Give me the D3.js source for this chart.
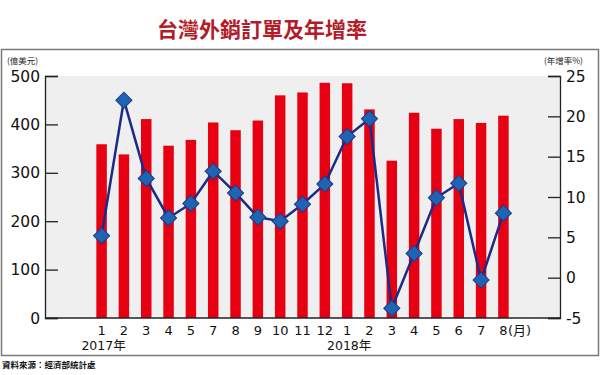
<!DOCTYPE html>
<html lang="zh-Hant">
<head>
  <meta charset="UTF-8">
  <title>台灣外銷訂單及年增率</title>
  <script src="https://d3js.org/d3.v7.min.js"></script>
  <style>
    body { margin: 0; background: #fff; }
    svg { display: block; }
    .tick-label { font-family: "DejaVu Sans", "Noto Sans CJK TC", sans-serif; fill: #111; }
  </style>
</head>
<body>
<svg width="600" height="375"></svg>
<script>
// months shown on the axis (2017-06 is not in the source chart)
const months = ["1", "2", "3", "4", "5", "7", "8", "9", "10", "11", "12", "1", "2", "3", "4", "5", "6", "7", "8"];
const years = [{ label: "2017年", at: 0 }, { label: "2018年", at: 11 }];
// export orders, 億美元
const orders = [359, 338, 411, 356, 368, 404, 388, 408, 460, 466, 486, 485, 431, 325, 424, 391, 411, 403, 418];
// year-on-year growth, %
const growth = [5.2, 22.0, 12.3, 7.4, 9.2, 13.2, 10.5, 7.5, 7.0, 9.1, 11.6, 17.5, 19.7, -3.8, 3.0, 9.9, 11.7, -0.3, 8.0];
const leftTicks = [0, 100, 200, 300, 400, 500];
const rightTicks = [-5, 0, 5, 10, 15, 20, 25];

const svg = d3.select("svg");
const plot = { left: 45, right: 560, top: 76, bottom: 318 };

// outer frame
svg.append("rect")
  .attr("x", 1.5).attr("y", 49.5)
  .attr("width", 597).attr("height", 306)
  .attr("fill", "none")
  .attr("stroke", "#7a7a7a")
  .attr("stroke-width", 1.5);

// title
svg.append("text")
  .attr("x", 262).attr("y", 37)
  .attr("text-anchor", "middle")
  .attr("font-family", "Noto Sans CJK TC")
  .attr("font-weight", 700)
  .attr("font-size", 21)
  .attr("fill", "#b31b29")
  .text("台灣外銷訂單及年增率");

// plot background
svg.append("rect")
  .attr("x", plot.left).attr("y", plot.top)
  .attr("width", plot.right - plot.left).attr("height", plot.bottom - plot.top)
  .attr("fill", "#efefef");

const x = d3.scaleBand()
  .domain(d3.range(months.length))
  .range([plot.left, plot.right])
  .paddingInner(0.53)
  .paddingOuter(2.3);

const yL = d3.scaleLinear().domain([0, 500]).range([plot.bottom, plot.top]);
const yR = d3.scaleLinear().domain([-5, 25]).range([plot.bottom, plot.top]);

// bars
svg.append("g")
  .selectAll("rect")
  .data(orders)
  .join("rect")
  .attr("x", (d, i) => x(i))
  .attr("y", d => yL(d))
  .attr("width", x.bandwidth())
  .attr("height", d => yL(0) - yL(d))
  .attr("fill", "#e60012");

// axes: ticks point inward
const leftAxis = svg.append("g")
  .attr("transform", `translate(${plot.left},0)`)
  .call(d3.axisRight(yL).tickValues(leftTicks).tickSize(13).tickFormat(""));
const rightAxis = svg.append("g")
  .attr("transform", `translate(${plot.right},0)`)
  .call(d3.axisLeft(yR).tickValues(rightTicks).tickSize(12).tickFormat(""));
[leftAxis, rightAxis].forEach(a => {
  a.select(".domain").attr("stroke", "#222").attr("stroke-width", 1.3);
  a.selectAll(".tick line").attr("stroke", "#222").attr("stroke-width", 1.3);
});

svg.append("line")
  .attr("x1", plot.left).attr("x2", plot.right)
  .attr("y1", plot.bottom).attr("y2", plot.bottom)
  .attr("stroke", "#222").attr("stroke-width", 1.3);

svg.append("g").selectAll("text")
  .data(leftTicks)
  .join("text")
  .attr("class", "tick-label")
  .attr("x", 40)
  .attr("y", d => yL(d))
  .attr("dy", "0.36em")
  .attr("text-anchor", "end")
  .attr("font-size", 15.5)
  .text(d => d);

svg.append("g").selectAll("text")
  .data(rightTicks)
  .join("text")
  .attr("class", "tick-label")
  .attr("x", 566)
  .attr("y", d => yR(d))
  .attr("dy", "0.36em")
  .attr("font-size", 15.5)
  .text(d => d);

// unit labels
svg.append("text")
  .attr("x", 7).attr("y", 64)
  .attr("font-family", "Noto Sans CJK TC")
  .attr("font-size", 8.5)
  .attr("fill", "#222")
  .text("(億美元)");
svg.append("text")
  .attr("x", 583).attr("y", 64)
  .attr("text-anchor", "end")
  .attr("font-family", "Noto Sans CJK TC")
  .attr("font-size", 8.5)
  .attr("fill", "#222")
  .text("(年增率%)");

// month labels
const cx = i => x(i) + x.bandwidth() / 2;
svg.append("g").selectAll("text")
  .data(months)
  .join("text")
  .attr("class", "tick-label")
  .attr("x", (d, i) => cx(i))
  .attr("y", 335)
  .attr("text-anchor", "middle")
  .attr("font-size", 13)
  .text(d => d);
svg.append("text")
  .attr("class", "tick-label")
  .attr("x", cx(months.length - 1) + 4.5)
  .attr("y", 335)
  .attr("font-size", 13)
  .text("(月)");

svg.append("g").selectAll("text")
  .data(years)
  .join("text")
  .attr("class", "tick-label")
  .attr("x", d => cx(d.at) + 2)
  .attr("y", 350)
  .attr("text-anchor", "middle")
  .attr("font-size", 12.5)
  .text(d => d.label);

// growth line
const line = d3.line()
  .x((d, i) => cx(i))
  .y(d => yR(d));
svg.append("path")
  .datum(growth)
  .attr("d", line)
  .attr("fill", "none")
  .attr("stroke", "#1d2a86")
  .attr("stroke-width", 2.5);

svg.append("g").selectAll("path")
  .data(growth)
  .join("path")
  .attr("d", d3.symbol(d3.symbolSquare, 130))
  .attr("transform", (d, i) => `translate(${cx(i)},${yR(d)}) rotate(45)`)
  .attr("fill", "#1f63b3")
  .attr("stroke", "#1a3a8c")
  .attr("stroke-width", 1);

// source
svg.append("text")
  .attr("x", 2).attr("y", 368)
  .attr("font-family", "Noto Sans CJK TC")
  .attr("font-weight", 700)
  .attr("font-size", 8.5)
  .attr("fill", "#111")
  .text("資料來源：經濟部統計處");
</script>
</body>
</html>
